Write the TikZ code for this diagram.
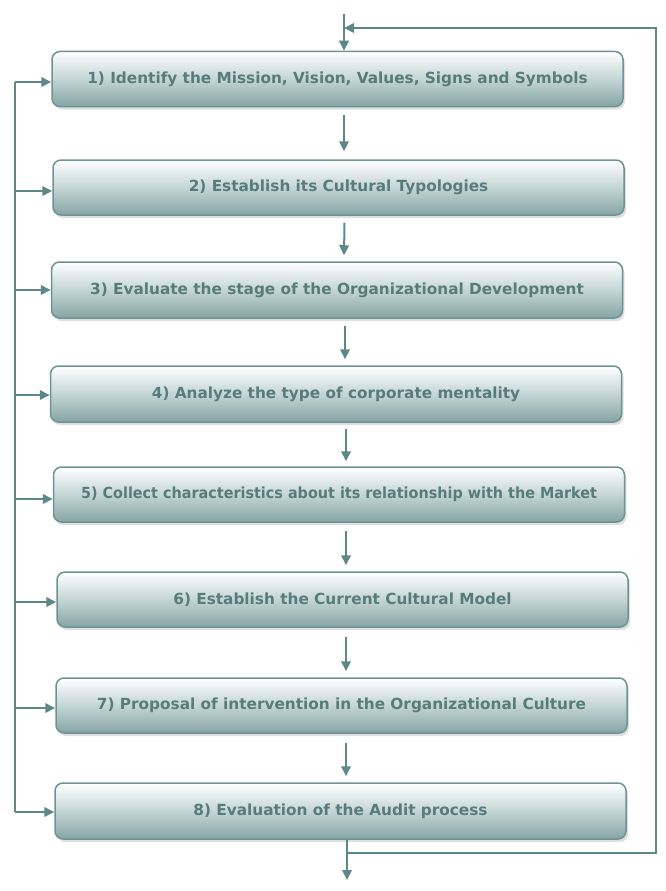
\documentclass[tikz,border=0pt]{standalone}
\usepackage{fontspec}
\setmainfont{DejaVu Sans}
\usetikzlibrary{arrows.meta,shadows,calc}
\definecolor{lnc}{HTML}{5E8787}
\definecolor{bdc}{HTML}{6D9494}
\definecolor{txc}{HTML}{587C7C}
\definecolor{botc}{HTML}{86A4A4}
\definecolor{midc}{HTML}{C4D5D5}
\tikzset{
  stepbox/.style={draw=bdc, line width=1.5pt, rounded corners=8pt,
    minimum width=571pt, minimum height=55pt, inner sep=0pt,
    top color=white, bottom color=botc, middle color=midc,
    drop shadow={shadow xshift=2pt, shadow yshift=-3pt, opacity=0.25, fill=gray},
    text=txc, font=\fontsize{15.3}{18}\selectfont\bfseries},
  conn/.style={draw=lnc, line width=2pt},
  arr/.style={conn, -{Triangle[length=10pt,width=9.5pt]}, lnc}
}
\begin{document}
\begin{tikzpicture}[x=1pt,y=-1pt]
\useasboundingbox (0,0) rectangle (666,891);
\node[stepbox] (b1) at (337.5,79) {1) Identify the Mission, Vision, Values, Signs and Symbols};
\node[stepbox] (b2) at (338.5,187.5) {2) Establish its Cultural Typologies};
\node[stepbox, minimum height=56pt] (b3) at (337,290) {3) Evaluate the stage of the Organizational Development};
\node[stepbox, minimum height=56pt] (b4) at (336,394) {4) Analyze the type of corporate mentality};
\node[stepbox] (b5) at (339,494.5) {\scalebox{0.94}[1]{5) Collect characteristics about its relationship with the Market}};
\node[stepbox] (b6) at (342.5,599.5) {6) Establish the Current Cultural Model};
\node[stepbox] (b7) at (341.5,705.5) {7) Proposal of intervention in the Organizational Culture};
\node[stepbox, minimum height=56pt] (b8) at (340.5,811) {8) Evaluation of the Audit process};
% spine arrows
\draw[arr] ($(b1.south)+(6.5,8)$) -- ($(b2.north)+(5.5,-8)$);
\draw[arr] ($(b2.south)+(6,7)$) -- ($(b3.north)+(7,-6)$);
\draw[arr] ($(b3.south)+(8,7)$) -- ($(b4.north)+(9,-6)$);
\draw[arr] ($(b4.south)+(10,6)$) -- ($(b5.north)+(7,-5)$);
\draw[arr] ($(b5.south)+(7,8)$) -- ($(b6.north)+(3.5,-6)$);
\draw[arr] ($(b6.south)+(3.5,9)$) -- ($(b7.north)+(4.5,-6)$);
\draw[arr] ($(b7.south)+(4.5,9)$) -- ($(b8.north)+(5.5,-6)$);
% top entry
\coordinate (tin) at (344,14);
\coordinate (tj) at (344,28);
\draw[arr] (tin) -- (tin |- b1.north);
% bottom exit and loop back
\coordinate (oj) at (347,853);
\coordinate (oe) at (347,880);
\coordinate (rb) at (655.5,853);
\coordinate (rt) at (655.5,28);
\draw[arr] (b8.south -| oj) -- (oe);
\draw[arr] (oj) -- (rb) -- (rt) -- (tj);
% left feedback
\coordinate (L) at (15,0);
\draw[conn] ([yshift=-3pt]b1.west -| L) -- ([yshift=-1pt]b8.west -| L);
\draw[arr] ([yshift=-3pt]b1.west -| L) -- ([yshift=-3pt]b1.west);
\draw[arr] ([yshift=-3.5pt]b2.west -| L) -- ([yshift=-3.5pt]b2.west);
\draw[arr] (b3.west -| L) -- (b3.west);
\draw[arr] ([yshift=-1pt]b4.west -| L) -- ([yshift=-1pt]b4.west);
\draw[arr] ([yshift=-4.5pt]b5.west -| L) -- ([yshift=-4.5pt]b5.west);
\draw[arr] ([yshift=-2.5pt]b6.west -| L) -- ([yshift=-2.5pt]b6.west);
\draw[arr] ([yshift=-2.5pt]b7.west -| L) -- ([yshift=-2.5pt]b7.west);
\draw[arr] ([yshift=-1pt]b8.west -| L) -- ([yshift=-1pt]b8.west);
\end{tikzpicture}
\end{document}
